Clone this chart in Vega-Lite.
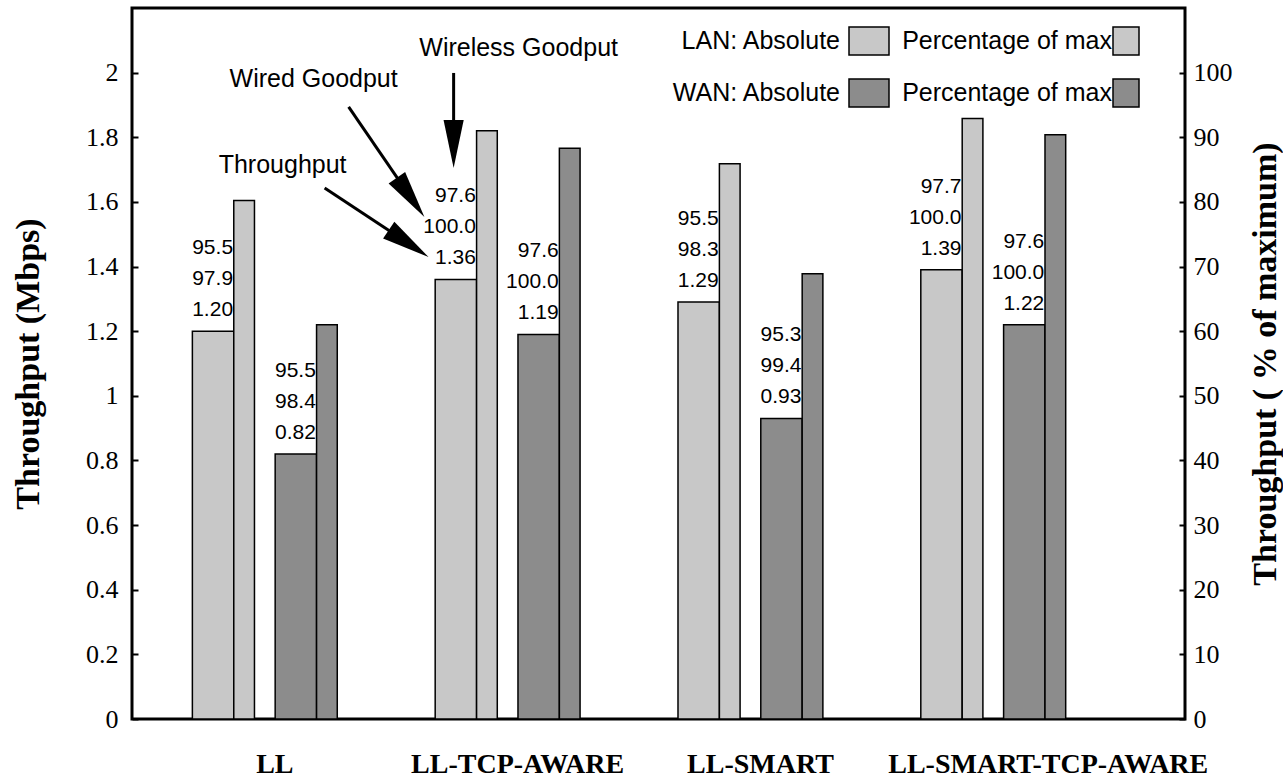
{
  "$schema": "https://vega.github.io/schema/vega-lite/v6.json",
  "width": 1053,
  "height": 711,
  "autosize": {"type": "none"},
  "padding": {"left": 132, "top": 8, "right": 98, "bottom": 61},
  "background": "white",
  "config": {
    "view": {"stroke": "black", "strokeWidth": 3},
    "font": "Liberation Serif"
  },
  "data": {
    "values": [
      {"config": "LL", "net": "LAN", "measure": "Absolute", "series": "LAN Absolute", "value": 1.20, "label": "95.5\n97.9\n1.20"},
      {"config": "LL", "net": "LAN", "measure": "Percentage", "series": "LAN Percentage of max", "value": 80.2},
      {"config": "LL", "net": "WAN", "measure": "Absolute", "series": "WAN Absolute", "value": 0.82, "label": "95.5\n98.4\n0.82"},
      {"config": "LL", "net": "WAN", "measure": "Percentage", "series": "WAN Percentage of max", "value": 61.0},
      {"config": "LL-TCP-AWARE", "net": "LAN", "measure": "Absolute", "series": "LAN Absolute", "value": 1.36, "label": "97.6\n100.0\n1.36"},
      {"config": "LL-TCP-AWARE", "net": "LAN", "measure": "Percentage", "series": "LAN Percentage of max", "value": 91.0},
      {"config": "LL-TCP-AWARE", "net": "WAN", "measure": "Absolute", "series": "WAN Absolute", "value": 1.19, "label": "97.6\n100.0\n1.19"},
      {"config": "LL-TCP-AWARE", "net": "WAN", "measure": "Percentage", "series": "WAN Percentage of max", "value": 88.3},
      {"config": "LL-SMART", "net": "LAN", "measure": "Absolute", "series": "LAN Absolute", "value": 1.29, "label": "95.5\n98.3\n1.29"},
      {"config": "LL-SMART", "net": "LAN", "measure": "Percentage", "series": "LAN Percentage of max", "value": 85.9},
      {"config": "LL-SMART", "net": "WAN", "measure": "Absolute", "series": "WAN Absolute", "value": 0.93, "label": "95.3\n99.4\n0.93"},
      {"config": "LL-SMART", "net": "WAN", "measure": "Percentage", "series": "WAN Percentage of max", "value": 68.9},
      {"config": "LL-SMART-TCP-AWARE", "net": "LAN", "measure": "Absolute", "series": "LAN Absolute", "value": 1.39, "label": "97.7\n100.0\n1.39"},
      {"config": "LL-SMART-TCP-AWARE", "net": "LAN", "measure": "Percentage", "series": "LAN Percentage of max", "value": 92.9},
      {"config": "LL-SMART-TCP-AWARE", "net": "WAN", "measure": "Absolute", "series": "WAN Absolute", "value": 1.22, "label": "97.6\n100.0\n1.22"},
      {"config": "LL-SMART-TCP-AWARE", "net": "WAN", "measure": "Percentage", "series": "WAN Percentage of max", "value": 90.4}
    ]
  },
  "layer": [
    {
      "layer": [
        {
          "transform": [{"filter": "datum.measure == 'Absolute'"}],
          "mark": {"type": "bar", "stroke": "black", "strokeWidth": 1.5, "opacity": 1},
          "encoding": {
            "x": {
              "field": "config", "type": "nominal", "sort": null,
              "scale": {"domain": ["LL", "LL-TCP-AWARE", "LL-SMART", "LL-SMART-TCP-AWARE"], "paddingInner": 0.4033, "paddingOuter": 0.37, "align": 0.336},
              "axis": {
                "orient": "bottom", "title": null, "ticks": false, "domain": false, "labelAngle": 0, "labelLimit": 0,
                "labelFont": "Liberation Serif", "labelFontSize": 28, "labelFontWeight": "bold", "labelColor": "black",
                "labelBaseline": "alphabetic", "labelPadding": 53,
                "labelOffset": {"condition": {"test": "datum.value === 'LL-SMART-TCP-AWARE'", "value": 55}, "value": 10}
              }
            },
            "xOffset": {
              "field": "net", "type": "nominal",
              "scale": {"domain": ["LAN", "WAN"], "paddingInner": 0.5, "paddingOuter": 0.125, "align": 0}
            },
            "y": {
              "field": "value", "type": "quantitative",
              "scale": {"domain": [0, 2.2], "nice": false},
              "axis": {
                "orient": "left", "title": "Throughput (Mbps)", "values": [0, 0.2, 0.4, 0.6, 0.8, 1, 1.2, 1.4, 1.6, 1.8, 2],
                "format": "~g", "grid": false, "domain": false, "tickSize": -6, "tickWidth": 2, "tickColor": "black",
                "labelPadding": 20, "labelFont": "Liberation Serif", "labelFontSize": 26, "labelColor": "black",
                "titleFont": "Liberation Serif", "titleFontSize": 34, "titleFontWeight": "bold", "titleColor": "black", "titlePadding": 40
              }
            },
            "fill": {
              "field": "series", "type": "nominal",
              "scale": {"domain": ["LAN Absolute", "LAN Percentage of max", "WAN Absolute", "WAN Percentage of max"], "range": ["#c8c8c8", "#c8c8c8", "#8c8c8c", "#8c8c8c"]},
              "legend": {
                "orient": "none", "legendX": 716, "legendY": 12, "columns": 2, "direction": "horizontal", "title": null,
                "symbolType": "M-1,-0.7H1V0.7H-1Z", "symbolSize": 1600, "symbolStrokeColor": "black", "symbolStrokeWidth": 1.5, "symbolOpacity": 1,
                "labelAlign": "right", "labelOffset": -50, "labelFont": "Liberation Sans", "labelFontSize": 25, "labelColor": "black", "labelLimit": 0,
                "columnPadding": 10, "rowPadding": 14,
                "labelExpr": "datum.label == 'LAN Absolute' ? 'LAN: Absolute' : (datum.label == 'WAN Absolute' ? 'WAN: Absolute' : 'Percentage of max')",
                "encode": {"symbols": {"update": {"shape": {"signal": "indexof(datum.value, 'Percentage') >= 0 ? 'M-1.4,-0.7H-0.1V0.7H-1.4Z' : 'M-1,-0.7H1V0.7H-1Z'"}}}}
              }
            }
          }
        },
        {
          "transform": [{"filter": "datum.measure == 'Absolute'"}],
          "mark": {"type": "text", "align": "right", "baseline": "bottom", "dx": 20, "dy": -73, "font": "Liberation Sans", "fontSize": 21, "lineBreak": "\n", "lineHeight": 31, "color": "black"},
          "encoding": {
            "x": {"field": "config", "type": "nominal", "sort": null},
            "xOffset": {"field": "net", "type": "nominal"},
            "y": {"field": "value", "type": "quantitative"},
            "text": {"field": "label", "type": "nominal"}
          }
        },
        {
          "data": {"values": [{}]},
          "mark": {"type": "text", "text": "Wireless Goodput", "font": "Liberation Sans", "fontSize": 25, "align": "center", "baseline": "middle", "dx": 11, "color": "black"},
          "encoding": {"x": {"datum": "LL-TCP-AWARE"}, "y": {"datum": 2.076}}
        },
        {
          "data": {"values": [{}]},
          "mark": {"type": "text", "text": "Wired Goodput", "font": "Liberation Sans", "fontSize": 25, "align": "center", "baseline": "middle", "dx": -194, "color": "black"},
          "encoding": {"x": {"datum": "LL-TCP-AWARE"}, "y": {"datum": 1.980}}
        },
        {
          "data": {"values": [{}]},
          "mark": {"type": "text", "text": "Throughput", "font": "Liberation Sans", "fontSize": 25, "align": "center", "baseline": "middle", "dx": -225, "color": "black"},
          "encoding": {"x": {"datum": "LL-TCP-AWARE"}, "y": {"datum": 1.714}}
        },
        {
          "data": {"values": [{}]},
          "mark": {"type": "rule", "strokeWidth": 3, "color": "black", "xOffset": -54, "x2Offset": -54},
          "encoding": {"x": {"datum": "LL-TCP-AWARE"}, "x2": {"datum": "LL-TCP-AWARE"}, "y": {"datum": 1.999}, "y2": {"datum": 1.779}}
        },
        {
          "data": {"values": [{}]},
          "mark": {"type": "rule", "strokeWidth": 3, "color": "black", "xOffset": -159, "x2Offset": -97},
          "encoding": {"x": {"datum": "LL-TCP-AWARE"}, "x2": {"datum": "LL-TCP-AWARE"}, "y": {"datum": 1.894}, "y2": {"datum": 1.614}}
        },
        {
          "data": {"values": [{}]},
          "mark": {"type": "rule", "strokeWidth": 3, "color": "black", "xOffset": -183, "x2Offset": -99},
          "encoding": {"x": {"datum": "LL-TCP-AWARE"}, "x2": {"datum": "LL-TCP-AWARE"}, "y": {"datum": 1.643}, "y2": {"datum": 1.471}}
        },
        {
          "data": {"values": [{}]},
          "mark": {"type": "point", "shape": "M0,-1L0.42,1L-0.42,1Z", "size": 2304, "filled": true, "fill": "black", "opacity": 1, "strokeWidth": 0, "angle": 180, "xOffset": -54},
          "encoding": {"x": {"datum": "LL-TCP-AWARE"}, "y": {"datum": 1.779}}
        },
        {
          "data": {"values": [{}]},
          "mark": {"type": "point", "shape": "M0,-1L0.42,1L-0.42,1Z", "size": 2304, "filled": true, "fill": "black", "opacity": 1, "strokeWidth": 0, "angle": 145, "xOffset": -97},
          "encoding": {"x": {"datum": "LL-TCP-AWARE"}, "y": {"datum": 1.614}}
        },
        {
          "data": {"values": [{}]},
          "mark": {"type": "point", "shape": "M0,-1L0.42,1L-0.42,1Z", "size": 2304, "filled": true, "fill": "black", "opacity": 1, "strokeWidth": 0, "angle": 124, "xOffset": -99},
          "encoding": {"x": {"datum": "LL-TCP-AWARE"}, "y": {"datum": 1.471}}
        }
      ]
    },
    {
      "transform": [{"filter": "datum.measure == 'Percentage'"}],
      "mark": {"type": "bar", "stroke": "black", "strokeWidth": 1.5, "opacity": 1},
      "encoding": {
        "x": {"field": "config", "type": "nominal", "sort": null},
        "xOffset": {
          "field": "net", "type": "nominal",
          "scale": {"domain": ["LAN", "WAN"], "paddingInner": 0.75, "paddingOuter": 0.25, "align": 1}
        },
        "y": {
          "field": "value", "type": "quantitative",
          "scale": {"domain": [0, 110], "nice": false},
          "axis": {
            "orient": "right", "title": "Throughput ( % of maximum)", "values": [0, 10, 20, 30, 40, 50, 60, 70, 80, 90, 100],
            "grid": false, "domain": false, "tickSize": -6, "tickWidth": 2, "tickColor": "black",
            "labelPadding": 14, "labelFont": "Liberation Serif", "labelFontSize": 26, "labelColor": "black",
            "titleFont": "Liberation Serif", "titleFontSize": 34, "titleFontWeight": "bold", "titleColor": "black", "titleAngle": 270, "titlePadding": 50
          }
        },
        "fill": {"field": "series", "type": "nominal"}
      }
    }
  ],
  "resolve": {"scale": {"y": "independent", "xOffset": "independent"}}
}
